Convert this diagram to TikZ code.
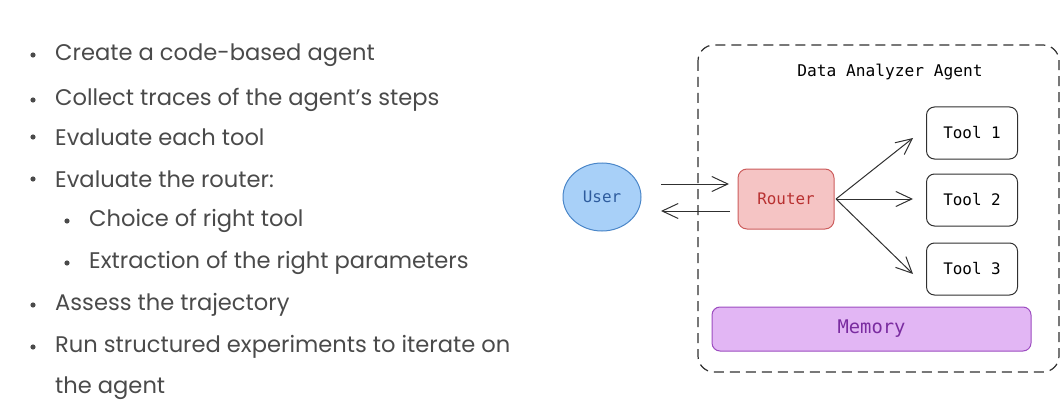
\documentclass[tikz,border=0pt]{standalone}
\usepackage{fontspec}
\setmainfont{Poppins}
\newfontfamily\monof{DejaVu Sans Mono}
\usetikzlibrary{arrows.meta,shapes.geometric}
\definecolor{txtgray}{HTML}{4A4A4A}
\definecolor{userfill}{HTML}{A8D0F8}
\definecolor{userdraw}{HTML}{4A86C8}
\definecolor{usertxt}{HTML}{2E5C9E}
\definecolor{routfill}{HTML}{F5C4C4}
\definecolor{routdraw}{HTML}{CC5C5C}
\definecolor{routtxt}{HTML}{B83030}
\definecolor{memfill}{HTML}{E2B6F4}
\definecolor{memdraw}{HTML}{9C4CC0}
\definecolor{memtxt}{HTML}{7A2CA0}
\definecolor{linegray}{HTML}{303030}
\tikzset{
  bullettext/.style={anchor=west, text=txtgray, font=\fontsize{22.6}{26}\selectfont, inner sep=0pt},
  bulletdot/.style={circle, fill=txtgray, inner sep=0pt, minimum size=5.2pt},
  monolabel/.style={font=\monof\fontsize{15.9}{18}\selectfont},
  toolbox/.style={draw=linegray, line width=1pt, rounded corners=8pt, minimum width=91pt, minimum height=52pt, monolabel, text=black},
  barb/.style={-{Straight Barb[length=16pt,width=15pt]}, line width=1pt, draw=linegray},
}
\begin{document}
\begin{tikzpicture}[x=1pt,y=-1pt]
\useasboundingbox (0,0) rectangle (1062,409);
% left bullet list
\node[bulletdot] (b1) at (33,55) {};
\node[bullettext] (t1) at (55,55) {Create a code-based agent};
\node[bulletdot] (b2) at (33,100) {};
\node[bullettext] (t2) at (55,100) {Collect traces of the agent’s steps};
\node[bulletdot] (b3) at (33,137) {};
\node[bullettext] (t3) at (55,137) {Evaluate each tool};
\node[bulletdot] (b4) at (33,179) {};
\node[bullettext] (t4) at (55,179) {Evaluate the router:};
\node[bulletdot] (b5) at (67,221) {};
\node[bullettext] (t5) at (89,221) {Choice of right tool};
\node[bulletdot] (b6) at (67,263) {};
\node[bullettext] (t6) at (89,263) {Extraction of the right parameters};
\node[bulletdot] (b7) at (33,305) {};
\node[bullettext] (t7) at (55,305) {Assess the trajectory};
\node[bulletdot] (b8) at (33,347) {};
\node[bullettext] (t8) at (55,347) {Run structured experiments to iterate on};
\node[bullettext] (t9) at (55,388) {the agent};
% agent container
\draw[draw=linegray, line width=1.2pt, dash pattern=on 10pt off 6pt, rounded corners=16pt] (698,45) rectangle (1059,372);
\node[monolabel, text=black, font=\monof\fontsize{16.2}{18}\selectfont] (title) at (890,72) {Data Analyzer Agent};
% user
\node[ellipse, draw=userdraw, fill=userfill, line width=1pt, minimum width=78pt, minimum height=68pt, monolabel, text=usertxt] (user) at (602,197) {User};
% router
\node[draw=routdraw, fill=routfill, line width=1pt, rounded corners=9pt, minimum width=96pt, minimum height=60pt, monolabel, text=routtxt] (router) at (786,199) {Router};
% tools
\node[toolbox] (tool1) at (972,133) {Tool 1};
\node[toolbox] (tool2) at (972,200) {Tool 2};
\node[toolbox] (tool3) at (972,269) {Tool 3};
% memory
\node[draw=memdraw, fill=memfill, line width=1pt, rounded corners=8pt, minimum width=319pt, minimum height=44pt, font=\monof\fontsize{18.8}{20}\selectfont, text=memtxt] (memory) at (871.5,329) {Memory};
% connectors
\coordinate (u1) at (661,184);
\coordinate (r1) at (729,184);
\coordinate (r2) at (730,211);
\coordinate (u2) at (661,211);
\draw[barb] (u1) -- (r1);
\draw[barb] (r2) -- (u2);
\coordinate (rs) at (836,199);
\coordinate (e1) at (913,138);
\coordinate (e2) at (913,199);
\coordinate (e3) at (913,274);
\draw[barb] (rs) -- (e1);
\draw[barb] (rs) -- (e2);
\draw[barb] (rs) -- (e3);
\end{tikzpicture}
\end{document}
